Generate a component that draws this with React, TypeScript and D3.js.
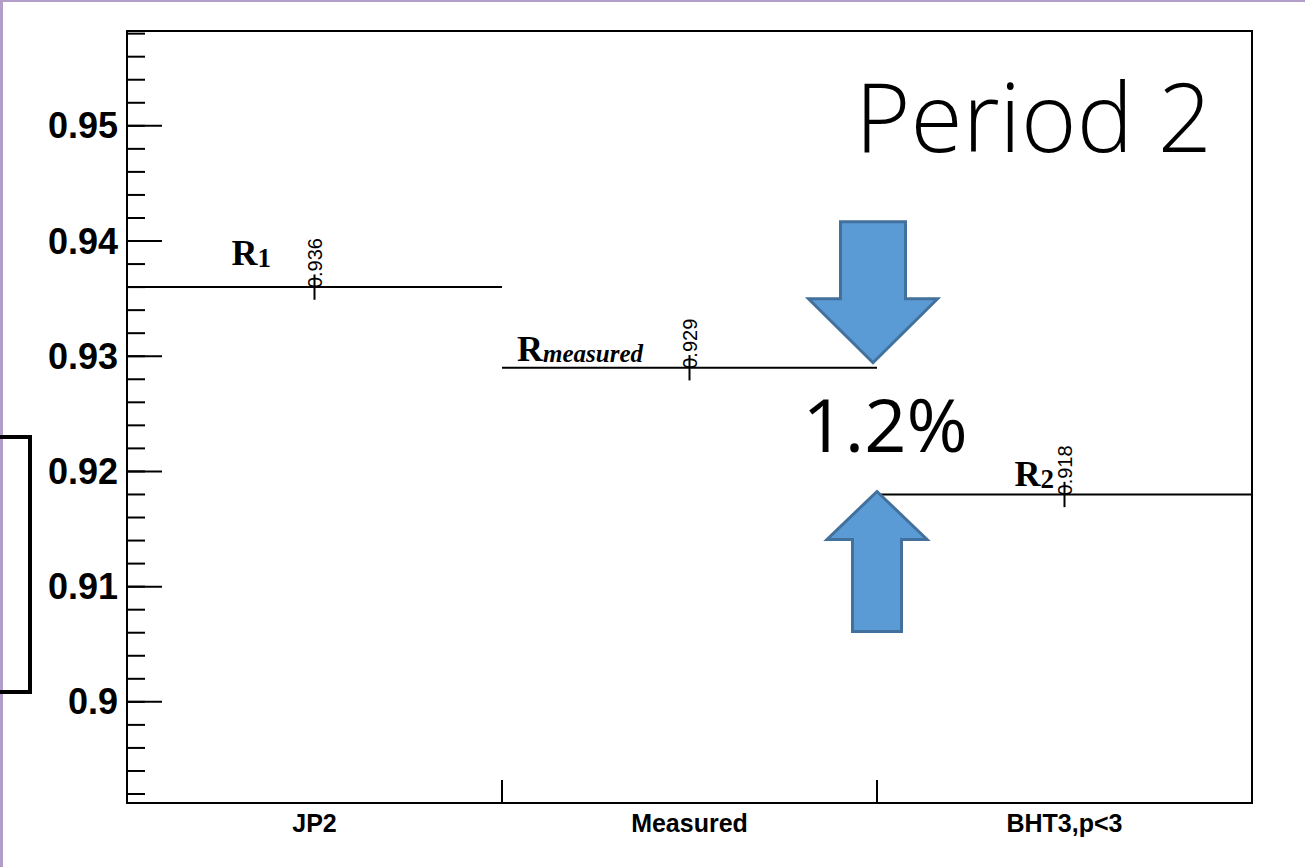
import React from "react";
import * as d3 from "d3";

const categories = ["JP2", "Measured", "BHT3,p<3"];
const values = [0.936, 0.929, 0.918];
const errors = [0.0011, 0.0011, 0.0011];
const valueLabels = ["0.936", "0.929", "0.918"];
const majorTicks = [0.9, 0.91, 0.92, 0.93, 0.94, 0.95];
const majorTickLabels = ["0.9", "0.91", "0.92", "0.93", "0.94", "0.95"];
const yDomain = [0.89122, 0.95823];

const W = 1305;
const H = 867;
const L = 127, R = 1252, T = 31, B = 803;

export default function App() {
  const x = d3.scaleBand<string>().domain(categories).range([L, R]).paddingInner(0).paddingOuter(0);
  const y = d3.scaleLinear().domain(yDomain).range([B, T]);
  const minorTicks = d3.range(0.892, 0.9585, 0.002);
  const bw = x.bandwidth();
  const boundaries = [L, ...categories.map((c) => (x(c) as number) + bw)];

  // arrow shapes (annotation) anchored to data
  const downCx = (x("Measured") as number) + bw - 4;
  const downTip = y(values[1]) - 5;
  const downPts = [
    [downCx - 32.5, downTip - 141],
    [downCx + 32.5, downTip - 141],
    [downCx + 32.5, downTip - 64],
    [downCx + 64.5, downTip - 64],
    [downCx, downTip],
    [downCx - 64.5, downTip - 64],
    [downCx - 32.5, downTip - 64],
  ];
  const upCx = (x("BHT3,p<3") as number);
  const upTip = y(values[2]) - 3;
  const upPts = [
    [upCx, upTip],
    [upCx + 50, upTip + 48],
    [upCx + 24.5, upTip + 48],
    [upCx + 24.5, upTip + 140],
    [upCx - 24.5, upTip + 140],
    [upCx - 24.5, upTip + 48],
    [upCx - 50, upTip + 48],
  ];
  const poly = (p: number[][]) => p.map((d) => d.join(",")).join(" ");

  const helv = "'Liberation Sans', Arial, Helvetica, sans-serif";
  const times = "'Liberation Serif', 'Times New Roman', serif";

  return (
    <svg width={W} height={H} style={{ position: "absolute", left: 0, top: 0, background: "#fff" }}>
      <rect x={0} y={0} width={W} height={H} fill="#fff" />
      {/* purple slide border */}
      <rect x={0} y={0} width={W} height={2} fill="#b39dc9" />
      <rect x={0} y={0} width={3} height={H} fill="#b39dc9" />
      {/* left bracket */}
      <path d="M0,437 L30,437 L30,692 L0,692" fill="none" stroke="#000" strokeWidth={4} />

      {/* frame */}
      <rect x={L} y={T} width={R - L} height={B - T} fill="none" stroke="#000" strokeWidth={2} />

      {/* y ticks */}
      {minorTicks.map((t, i) => (
        <line key={"m" + i} x1={L} x2={L + 18} y1={y(t)} y2={y(t)} stroke="#000" strokeWidth={2} />
      ))}
      {majorTicks.map((t, i) => (
        <g key={"M" + i}>
          <line x1={L} x2={L + 35} y1={y(t)} y2={y(t)} stroke="#000" strokeWidth={2} />
          <text x={118} y={y(t) + 12.5} textAnchor="end" fontFamily={helv} fontWeight="bold" fontSize={36} fill="#000">
            {majorTickLabels[i]}
          </text>
        </g>
      ))}

      {/* x ticks at bin boundaries */}
      {boundaries.map((b, i) => (
        <line key={"xb" + i} x1={b} x2={b} y1={B} y2={B - 23} stroke="#000" strokeWidth={2} />
      ))}
      {categories.map((c) => (
        <text key={"xl" + c} x={(x(c) as number) + bw / 2} y={832} textAnchor="middle" fontFamily={helv} fontWeight="bold" fontSize={25} fill="#000">
          {c}
        </text>
      ))}

      {/* histogram lines + errors */}
      {categories.map((c, i) => {
        const x0 = x(c) as number;
        const cx = x0 + bw / 2;
        const yv = y(values[i]);
        return (
          <g key={"h" + c}>
            <line x1={x0} x2={x0 + bw} y1={yv} y2={yv} stroke="#000" strokeWidth={2} />
            <line x1={cx} x2={cx} y1={y(values[i] + errors[i])} y2={y(values[i] - errors[i])} stroke="#000" strokeWidth={2} />
            <text
              transform={`translate(${cx + 7},${yv + 1}) rotate(-90)`}
              fontFamily={helv}
              fontSize={20}
              fill="#000"
            >
              {valueLabels[i]}
            </text>
          </g>
        );
      })}

      {/* R labels */}
      <text x={(x("JP2") as number) + bw / 2 - 83} y={y(values[0]) - 22} fontFamily={times} fontWeight="bold" fontSize={36} fill="#000">
        R<tspan fontSize={27} dy={2}>1</tspan>
      </text>
      <text x={(x("Measured") as number) + 15} y={y(values[1]) - 7} fontFamily={times} fontWeight="bold" fontSize={36} fill="#000">
        R<tspan fontSize={25} fontStyle="italic" dy={1}>measured</tspan>
      </text>
      <text x={(x("BHT3,p<3") as number) + bw / 2 - 50} y={y(values[2]) - 8} fontFamily={times} fontWeight="bold" fontSize={36} fill="#000">
        R<tspan fontSize={27} dy={2}>2</tspan>
      </text>

      {/* arrows */}
      <polygon points={poly(downPts)} fill="#5b9bd5" stroke="#41719c" strokeWidth={3} strokeLinejoin="miter" />
      <polygon points={poly(upPts)} fill="#5b9bd5" stroke="#41719c" strokeWidth={3} strokeLinejoin="miter" />

      {/* annotations */}
      <text x={885} y={452} textAnchor="middle" fontFamily="'Open Sans', sans-serif" fontSize={74} fill="#000">
        1.2%
      </text>
      <text x={855} y={152} fontFamily="'Open Sans', sans-serif" fontWeight={300} fontSize={96} fill="#000" textLength={357} lengthAdjust="spacingAndGlyphs">
        Period 2
      </text>
    </svg>
  );
}
